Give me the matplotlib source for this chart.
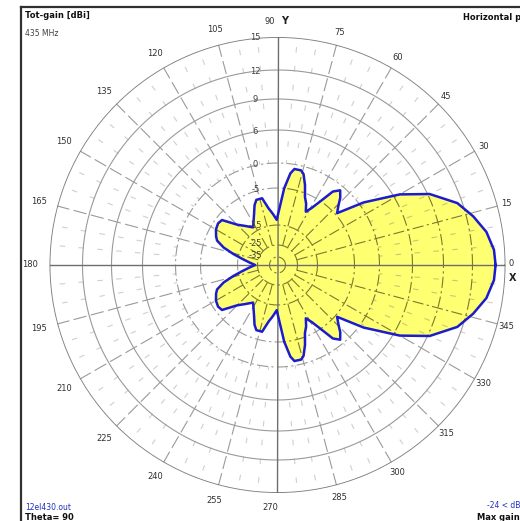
import numpy as np
import matplotlib
matplotlib.use("Agg")
import matplotlib.pyplot as plt
from matplotlib.lines import Line2D

# ---- pattern data: total gain (dBi) vs azimuth (deg), horizontal plane ----
phi_deg = [0, 4, 9, 14, 19, 25, 30, 36, 41, 44, 47, 50, 53, 56, 59, 62, 65, 68,
           71, 74, 76, 80, 82, 85, 87, 91, 95, 99, 103, 108, 111, 115, 123, 130,
           135, 141, 145, 150, 155, 158, 162, 166, 170, 175, 180,
           185, 190, 194, 198, 202, 205, 210, 215, 219, 225, 230, 237, 245, 249,
           252, 257, 261, 265, 269, 273, 275, 278, 280, 284, 286, 289, 292, 295,
           298, 301, 304, 307, 310, 313, 316, 319, 324, 330, 335, 341, 346, 351,
           356, 360]
gain_dbi = [14.1, 14.0, 13.5, 12.6, 11.5, 9.2, 6.6, 0.8, -4.6, -3.5, -2.0, -0.9,
            -2.0, -5.0, -7.8, -9.5, -7.5, -6.0, -3.5, -1.5, -0.9, -0.9, -1.9,
            -5.0, -9.0, -13.6, -12.0, -10.3, -7.3, -7.3, -8.5, -10.8, -13.7,
            -12.0, -10.4, -6.5, -6.2, -6.6, -7.5, -8.2, -10.5, -13.5, -17.0,
            -21.0, -23.8,
            -21.0, -17.0, -13.5, -10.5, -8.2, -7.5, -6.6, -6.2, -6.5, -10.4,
            -12.0, -13.7, -10.8, -8.5, -7.3, -7.3, -10.3, -12.0, -13.6, -9.0,
            -5.0, -1.9, -0.9, -0.9, -1.5, -3.5, -6.0, -7.5, -9.5, -7.8, -5.0,
            -2.0, -0.9, -2.0, -3.5, -4.6, 0.8, 6.6, 9.2, 11.5, 12.6, 13.5, 14.0,
            14.1]

# ---- grid definition ----
ring_solid = [12, 9, 6]
ring_dashed = [0, -5, -15, -25, -35]
ring_labels = ["15", "12", "9", "6", "0", "-5", "-15", "-25", "-35"]
ring_label_vals = [15, 12, 9, 6, 0, -5, -15, -25, -35]
angle_labels = list(range(0, 360, 15))

# radial scale (dB -> relative radius), compressed log-like scale
scale_db = [-45, -35, -25, -15, -5, 0, 6, 9, 12, 15]
scale_r = [0, 8, 20, 40, 77, 102, 135, 166, 195, 228]
R_MIN, R_MAX = -45, 15


def fwd(v):
    return np.interp(v, scale_db, scale_r)


def inv(v):
    return np.interp(v, scale_r, scale_db)


W, H = 520, 521
fig = plt.figure(figsize=(W / 100, H / 100), dpi=100)
fig.patch.set_facecolor("white")

cx, cy, rad = 277.5, 265.0, 228.0
ax = fig.add_axes([(cx - rad) / W, (H - cy - rad) / H, 2 * rad / W, 2 * rad / H],
                  projection="polar")
ax.set_rscale("function", functions=(fwd, inv))
ax.set_rlim(R_MIN, R_MAX)
ax.set_xticks([])
ax.set_yticks([])
ax.grid(False)
ax.spines["polar"].set_visible(False)
ax.set_facecolor("none")

th_full = np.linspace(0, 2 * np.pi, 721)
grid_grey = "#9a9a9a"
minor_grey = "#cfcfcf"
olive = "#7a7a30"
DASHDOT = (0, (10, 3, 2, 3))


def draw_grid(color, minor_color, zorder, clip=None):
    arts = []
    # minor spokes every 5 deg
    for a in range(0, 360, 5):
        if a % 15 == 0:
            continue
        t = np.radians(a)
        arts += ax.plot([t, t], [0, R_MAX], color=minor_color, lw=0.8,
                        ls=(2, (5, 12)), zorder=zorder)
    # major spokes every 15 deg
    for a in range(0, 360, 15):
        if a % 90 == 0:
            continue
        t = np.radians(a)
        arts += ax.plot([t, t], [-25, R_MAX], color=color, lw=0.8,
                        ls=(0, (12, 4)) if clip is None else DASHDOT, zorder=zorder)
    # rings
    for v in ring_solid:
        arts += ax.plot(th_full, np.full_like(th_full, v), color=color, lw=0.8,
                        ls="-" if clip is None else DASHDOT, zorder=zorder)
    for v in ring_dashed:
        arts += ax.plot(th_full, np.full_like(th_full, v), color=color, lw=0.8,
                        ls=DASHDOT, zorder=zorder)
    if clip is not None:
        for a in arts:
            a.set_clip_path(clip)
    return arts


# grid on white background
draw_grid(grid_grey, minor_grey, 1)

# pattern fill
th = np.radians(phi_deg)
fill = ax.fill(th, gain_dbi, color="#ffff72", lw=0, zorder=2)[0]
# grid seen through the filled area
draw_grid(olive, "#c8c870", 3, clip=fill)

# outer ring and X/Y axes
ax.plot(th_full, np.full_like(th_full, R_MAX), color="#808080", lw=1.3, zorder=5)
ax.plot([0, np.pi], [R_MAX, R_MAX], color="#6e6e6e", lw=1.0, zorder=5)
ax.plot([np.pi / 2, 3 * np.pi / 2], [R_MAX, R_MAX], color="#6e6e6e", lw=1.0, zorder=5)

# pattern outline
ax.plot(th, gain_dbi, color="#1c1ccc", lw=1.8, zorder=6)

# radial value labels next to the Y axis
for txt, v in zip(ring_labels, ring_label_vals):
    ry = fwd(v) if v > -20 else fwd(v) + 2
    fig.text((cx - 22) / W, 1 - (cy - ry + 1) / H, txt, fontsize=6, color="#404040",
             ha="center", va="center")

# azimuth labels around the outer ring
for a in angle_labels:
    t = np.radians(a)
    rr = 242 - 5 * np.cos(t)
    x = cx + rr * np.cos(t)
    y = cy - rr * np.sin(t)
    if a == 0:
        x, y = 511, 264
    if a == 90:
        x, y = 270, 21
    if a == 270:
        x, y = 270, 508
    fig.text(x / W, 1 - y / H, str(a), fontsize=6, color="#303030",
             ha="center", va="center")
fig.text(285 / W, 1 - 21 / H, "Y", fontsize=7, fontweight="bold", color="#202020",
         ha="center", va="center")
fig.text(513 / W, 1 - 278 / H, "X", fontsize=7, fontweight="bold", color="#202020",
         ha="center", va="center")

# header / footer annotations
fig.text(25 / W, 1 - 16 / H, "Tot-gain [dBi]", fontsize=6, fontweight="bold",
         color="#101010", ha="left", va="center")
fig.text(25 / W, 1 - 34 / H, "435 MHz", fontsize=5.5, color="#404040",
         ha="left", va="center")
fig.text(463 / W, 1 - 17 / H, "Horizontal plane", fontsize=6, fontweight="bold",
         color="#101010", ha="left", va="center")
fig.text(25 / W, 1 - 508 / H, "12el430.out", fontsize=5.5, color="#2030c0",
         ha="left", va="center")
fig.text(25 / W, 1 - 518 / H, "Theta= 90", fontsize=6, fontweight="bold",
         color="#101010", ha="left", va="center")
fig.text(487 / W, 1 - 506 / H, "-24 < dBi < 14", fontsize=5.5, color="#2030c0",
         ha="left", va="center")
fig.text(477 / W, 1 - 517 / H, "Max gain Phi= 0", fontsize=6, fontweight="bold",
         color="#101010", ha="left", va="center")

# window frame
fig.add_artist(Line2D([21 / W, 21 / W], [0, 1 - 7 / H], color="#303030", lw=1.6,
                      transform=fig.transFigure))
fig.add_artist(Line2D([21 / W, 1], [1 - 7 / H, 1 - 7 / H], color="#303030", lw=1.6,
                      transform=fig.transFigure))

fig.savefig("out.png", dpi=100, facecolor="white")
